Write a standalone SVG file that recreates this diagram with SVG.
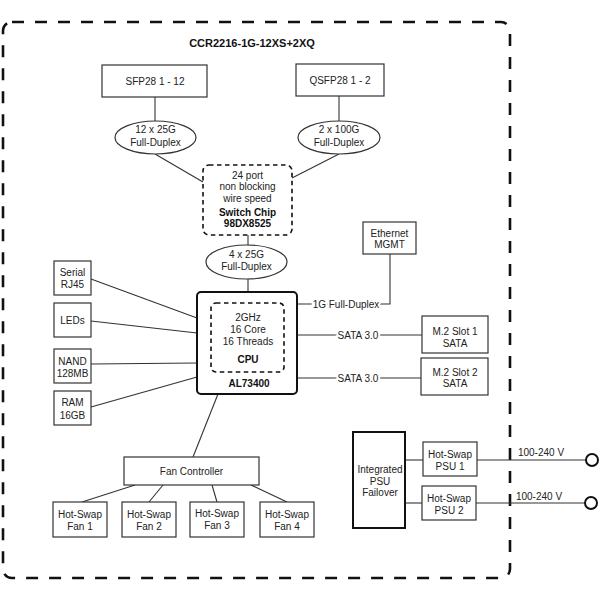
<svg xmlns="http://www.w3.org/2000/svg" width="600" height="600" viewBox="0 0 600 600">
<style>
text{font-family:"Liberation Sans",Arial,sans-serif;font-size:10px;fill:#222;text-anchor:middle}
.b{font-weight:bold;fill:#111}
.t{font-size:11px}
.box{fill:#fff;stroke:#333;stroke-width:1.2}
.thick{fill:#fff;stroke:#111;stroke-width:2}
.dash{fill:#fff;stroke:#111;stroke-width:1.6;stroke-dasharray:4.5 3.5}
.ell{fill:#fff;stroke:#333;stroke-width:1.2}
.ln{fill:none;stroke:#333;stroke-width:1.1}
.lbl{paint-order:stroke;stroke:#fff;stroke-width:4px}
.ring{fill:#fff;stroke:#111;stroke-width:2}
</style>
<rect id="frame" x="3" y="22" width="507" height="556" rx="9" fill="none" stroke="#111" stroke-width="2.6" stroke-dasharray="12 11"/>
<text class="b t" x="252" y="47">CCR2216-1G-12XS+2XQ</text>

<g id="connectors">
<line class="ln" x1="155" y1="97" x2="155" y2="121"/>
<line class="ln" x1="339" y1="96" x2="339" y2="121"/>
<line class="ln" x1="155" y1="154" x2="203" y2="182"/>
<line class="ln" x1="339" y1="154" x2="292" y2="178"/>
<line class="ln" x1="248" y1="235" x2="248" y2="245"/>
<line class="ln" x1="248" y1="279" x2="248" y2="292"/>
<line class="ln" x1="91" y1="279" x2="197" y2="318"/>
<line class="ln" x1="91" y1="321" x2="197" y2="333"/>
<line class="ln" x1="91" y1="364" x2="197" y2="363"/>
<line class="ln" x1="91" y1="407" x2="197" y2="377"/>
<line class="ln" x1="218" y1="394" x2="193" y2="457"/>
<line class="ln" x1="135" y1="485" x2="82" y2="502"/>
<line class="ln" x1="163" y1="485" x2="149" y2="502"/>
<line class="ln" x1="212" y1="485" x2="217" y2="502"/>
<line class="ln" x1="251" y1="485" x2="287" y2="502"/>
<polyline class="ln" points="390,254 390,304 297,304"/>
<text class="lbl" x="346" y="307.5">1G Full-Duplex</text>
<line class="ln" x1="297" y1="335" x2="422" y2="335"/>
<text class="lbl" x="358" y="338.5">SATA 3.0</text>
<line class="ln" x1="297" y1="378" x2="421" y2="378"/>
<text class="lbl" x="358" y="381.5">SATA 3.0</text>
<line class="ln" x1="405" y1="460" x2="423" y2="460"/>
<line class="ln" x1="405" y1="503" x2="422" y2="503"/>
<line class="ln" x1="477" y1="460" x2="586" y2="460"/>
<line class="ln" x1="476" y1="503" x2="585" y2="503"/>
<text x="541" y="455.5">100-240 V</text>
<text x="539" y="499.5">100-240 V</text>
<circle class="ring" cx="592" cy="460" r="6"/>
<circle class="ring" cx="591" cy="503" r="6"/>
</g>

<g id="sfp"><rect class="box" x="102" y="65" width="105" height="32"/><text x="155" y="84.5">SFP28 1 - 12</text></g>
<g id="qsfp"><rect class="box" x="296" y="64" width="88" height="32"/><text x="340" y="83.5">QSFP28 1 - 2</text></g>
<g id="e1"><ellipse class="ell" cx="155.5" cy="137.5" rx="40.5" ry="16.5"/><text x="155.5" y="132.5">12 x 25G</text><text x="155.5" y="145.5">Full-Duplex</text></g>
<g id="e2"><ellipse class="ell" cx="339" cy="137.5" rx="41" ry="16.5"/><text x="339" y="132.5">2 x 100G</text><text x="339" y="145.5">Full-Duplex</text></g>
<g id="switch"><rect class="dash" x="203" y="165" width="89" height="70" rx="6"/>
<text x="247.5" y="178.5">24 port</text><text x="247.5" y="190">non blocking</text><text x="247.5" y="202">wire speed</text>
<text class="b" x="247.5" y="215.5">Switch Chip</text><text class="b" x="247.5" y="227">98DX8525</text></g>
<g id="e3"><ellipse class="ell" cx="246.5" cy="262" rx="40.5" ry="17"/><text x="246.5" y="257.5">4 x 25G</text><text x="246.5" y="269.5">Full-Duplex</text></g>
<g id="cpu"><rect class="thick" x="197" y="292" width="100" height="102" rx="4"/>
<rect class="dash" x="211" y="303" width="73" height="69" rx="5"/>
<text x="248" y="320.5">2GHz</text><text x="248" y="332.5">16 Core</text><text x="248" y="344.5">16 Threads</text>
<text class="b" x="248" y="362.5">CPU</text><text class="b" x="249" y="386.5">AL73400</text></g>
<g id="serial"><rect class="box" x="54" y="261" width="37" height="34"/><text x="72.5" y="275.5">Serial</text><text x="72.5" y="287.5">RJ45</text></g>
<g id="leds"><rect class="box" x="54" y="303" width="37" height="34"/><text x="72.5" y="323.5">LEDs</text></g>
<g id="nand"><rect class="box" x="54" y="349" width="37" height="34"/><text x="72.5" y="364.5">NAND</text><text x="72.5" y="376.5">128MB</text></g>
<g id="ram"><rect class="box" x="54" y="391" width="37" height="34"/><text x="72.5" y="405.5">RAM</text><text x="72.5" y="418.5">16GB</text></g>
<g id="mgmt"><rect class="box" x="363" y="222" width="53" height="32"/><text x="389.5" y="236.5">Ethernet</text><text x="389.5" y="247.5">MGMT</text></g>
<g id="m2a"><rect class="box" x="422" y="316" width="66" height="37"/><text x="455" y="334.5">M.2 Slot 1</text><text x="455" y="346.5">SATA</text></g>
<g id="m2b"><rect class="box" x="421" y="358" width="67" height="37"/><text x="455" y="375.5">M.2 Slot 2</text><text x="455" y="386.5">SATA</text></g>
<g id="fanctl"><rect class="box" x="124" y="457" width="135" height="28"/><text x="191.5" y="474.5">Fan Controller</text></g>
<g id="fan1"><rect class="box" x="53" y="502" width="54" height="35"/><text x="80" y="518">Hot-Swap</text><text x="80" y="530">Fan 1</text></g>
<g id="fan2"><rect class="box" x="122" y="502" width="54" height="35"/><text x="149" y="518">Hot-Swap</text><text x="149" y="530">Fan 2</text></g>
<g id="fan3"><rect class="box" x="190" y="502" width="54" height="35"/><text x="217" y="517">Hot-Swap</text><text x="217" y="529">Fan 3</text></g>
<g id="fan4"><rect class="box" x="260" y="502" width="54" height="35"/><text x="287" y="518">Hot-Swap</text><text x="287" y="530">Fan 4</text></g>
<g id="failover"><rect class="thick" x="353" y="432" width="52" height="96"/><text x="380" y="472.5">Integrated</text><text x="380" y="484.5">PSU</text><text x="380" y="495.5">Failover</text></g>
<g id="psu1"><rect class="box" x="423" y="442" width="54" height="34"/><text x="450" y="457.5">Hot-Swap</text><text x="450" y="469.5">PSU 1</text></g>
<g id="psu2"><rect class="box" x="422" y="486" width="54" height="34"/><text x="449" y="501.5">Hot-Swap</text><text x="449" y="513.5">PSU 2</text></g>
</svg>
